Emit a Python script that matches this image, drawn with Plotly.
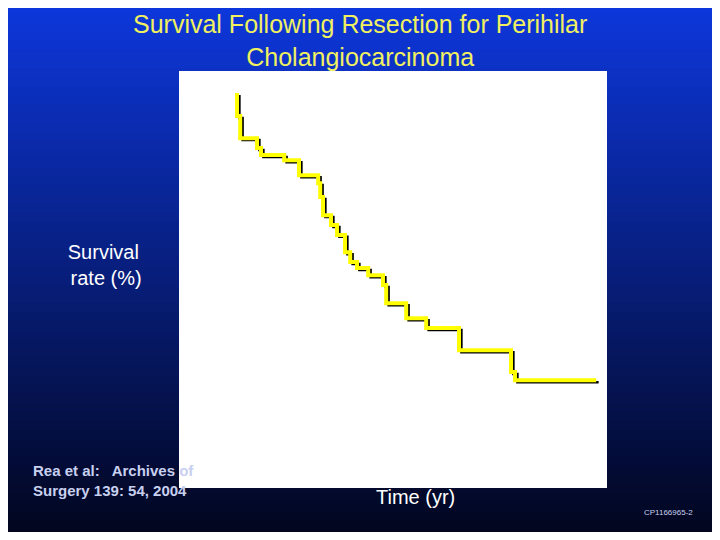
import plotly.graph_objects as go

# Kaplan-Meier steps
time_yr = [0, 0, 0.08, 0.5, 0.6, 1.18, 1.55, 2.03, 2.08, 2.15, 2.35, 2.5, 2.7, 2.83, 3.0,
           3.28, 3.65, 3.73, 4.23, 4.73, 5.55, 6.85, 6.95, 8.98]
survival_pct = [100, 94.2, 88.6, 86.1, 84.3, 83.0, 79.2, 77.2, 73.7, 69.1, 66.6, 64.1, 59.7,
                57.2, 55.7, 53.9, 51.4, 46.8, 43.0, 40.5, 34.9, 29.4, 27.3, 27.3]

fig = go.Figure()
# shadow
fig.add_trace(go.Scatter(x=[t + 0.06 for t in time_yr], y=[s - 0.5 for s in survival_pct],
                         mode="lines", line=dict(shape="hv", color="black", width=2.5),
                         hoverinfo="skip", showlegend=False))
fig.add_trace(go.Scatter(x=time_yr, y=survival_pct, mode="lines",
                         line=dict(shape="hv", color="#ffff00", width=4), showlegend=False))

# gradient background
shapes = []
n = 60
top = (14, 56, 222)
bot = (2, 6, 30)
for i in range(n):
    f = i / (n - 1)
    c = tuple(int(bot[k] + (top[k] - bot[k]) * f) for k in range(3))
    y0 = -0.12 + 1.3 * i / n
    y1 = -0.12 + 1.3 * (i + 1) / n + 0.002
    shapes.append(dict(type="rect", xref="paper", yref="paper", x0=-0.6, x1=1.6, y0=y0, y1=y1,
                       fillcolor="rgb(%d,%d,%d)" % c, line=dict(width=0), layer="below"))
shapes.append(dict(type="rect", xref="paper", yref="paper", x0=0, x1=1, y0=0, y1=1,
                   fillcolor="white", line=dict(width=0), layer="below"))

ann = [
    dict(text="Survival Following Resection for Perihilar<br>Cholangiocarcinoma", x=360, y=40,
         font=dict(size=25, color="#f0f060", family="Liberation Sans")),
    dict(text="Survival<br> rate (%)", x=103, y=265,
         font=dict(size=20, color="white", family="Liberation Sans")),
    dict(text="<b>Rea et al:   Archives of<br>Surgery 139: 54, 2004</b>", x=113, y=480, align="left",
         font=dict(size=15, color="#c8d0f0", family="Liberation Sans")),
    dict(text="Time (yr)", x=415, y=497,
         font=dict(size=20, color="white", family="Liberation Sans")),
    dict(text="CP1166965-2", x=668, y=512,
         font=dict(size=8, color="#c8d0f0", family="Liberation Sans")),
]
annotations = []
for a in ann:
    d = dict(xref="paper", yref="paper", showarrow=False, xanchor="center", yanchor="middle")
    d.update(a)
    d["x"] = (a["x"] - 179) / 428
    d["y"] = (488 - a["y"]) / 417
    annotations.append(d)

fig.update_layout(
    width=704, height=524, margin=dict(l=171, r=105, t=63, b=44),
    paper_bgcolor="#0a1a90", plot_bgcolor="white",
    xaxis=dict(range=[-1.45, 9.25], visible=False),
    yaxis=dict(range=[0, 105.6], visible=False),
    shapes=shapes, annotations=annotations,
)
fig.write_html("out.html")
